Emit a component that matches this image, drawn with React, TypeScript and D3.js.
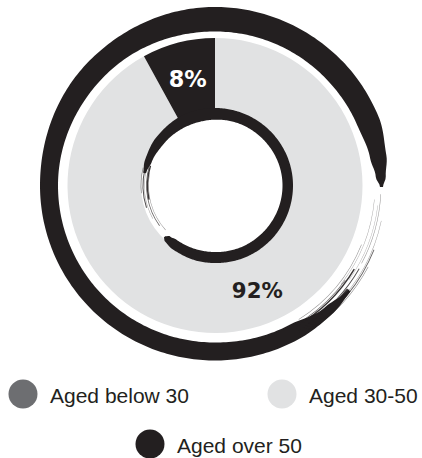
import React from "react";
import * as d3 from "d3";

const categories = ["Aged below 30", "Aged 30-50", "Aged over 50"];
const values = [0, 92, 8];
const colors = ["#6d6e71", "#e1e2e3", "#231f20"];
const labelColors = ["#ffffff", "#231f20", "#ffffff"];
const labelTexts = ["0%", "92%", "8%"];

// brush-ring profiles: [angleDeg, innerR, outerR]
const outerProfile: [number, number, number][] = [
  [-232, 169, 172],
  [-222, 164, 174],
  [-208, 158, 175],
  [-180, 157, 175],
  [-135, 157, 175],
  [-90, 157, 175],
  [-45, 155.5, 177],
  [0, 154, 178.5],
  [45, 154, 178],
  [67, 154.5, 177.5],
  [80, 157.5, 174],
  [87, 161, 171],
  [90.5, 165, 168],
];
const innerProfile: [number, number, number][] = [
  [-80, 70, 73],
  [-70, 67.5, 74.5],
  [-50, 66, 76],
  [-20, 65.5, 77.5],
  [30, 66.5, 77.5],
  [90, 67.5, 78],
  [150, 67, 78],
  [190, 66.5, 77.5],
  [215, 66.5, 76.5],
  [222, 68, 75],
  [224.5, 71, 73],
];
// dry-brush strands: [radius, startDeg, endDeg, width, opacity]
const outerStrands: [number, number, number, number, number][] = [
  [158, 112, 148, 0.5, 0.5],
  [160, 95, 128, 0.4, 0.45],
  [161, 126, 146, 0.8, 0.7],
  [162.5, 121, 150, 1.4, 0.9],
  [164, 97, 125, 0.4, 0.4],
  [166, 93, 118, 0.5, 0.5],
  [166.5, 120, 146, 0.9, 0.8],
  [168.5, 128, 150, 2.0, 0.9],
  [170, 102, 135, 0.4, 0.45],
  [171.5, 112, 147, 0.8, 0.7],
  [173.5, 118, 146, 0.5, 0.6],
];
const innerStrands: [number, number, number, number, number][] = [
  [66.5, 228, 281, 0.5, 0.5],
  [68.5, 234, 285, 0.8, 0.7],
  [70.5, 242, 283, 0.5, 0.45],
  [72, 252, 284, 1.0, 0.8],
  [67.5, 258, 287, 1.4, 0.9],
  [74, 264, 284, 0.6, 0.6],
];

const W = 422;
const H = 458;
const cx = 215;
const cy = 185.5;
const ink = "#231f20";

const rad = (d: number) => (d * Math.PI) / 180;

// sample a profile densely in polar space so the ring stays circular
function densify(p: [number, number, number][]) {
  const out: [number, number, number][] = [];
  for (let k = 0; k < p.length - 1; k++) {
    const [a0, i0, o0] = p[k];
    const [a1, i1, o1] = p[k + 1];
    const n = Math.max(2, Math.ceil(Math.abs(a1 - a0)));
    const ei = d3.interpolateNumber(i0, i1);
    const eo = d3.interpolateNumber(o0, o1);
    for (let j = 0; j < n; j++) {
      const t = j / n;
      const s = (1 - Math.cos(Math.PI * t)) / 2;
      out.push([a0 + (a1 - a0) * t, ei(s), eo(s)]);
    }
  }
  out.push(p[p.length - 1]);
  return out;
}

export default function App() {
  const pie = d3.pie<number>().sort(null).value((d) => d)(values);
  const arc = d3.arc<d3.PieArcDatum<number>>().innerRadius(74).outerRadius(147.5);
  const ring = (p: [number, number, number][]) =>
    d3
      .areaRadial<[number, number, number]>()
      .angle((d) => rad(d[0]))
      .innerRadius((d) => d[1])
      .outerRadius((d) => d[2])
      .curve(d3.curveLinear)(densify(p)) || "";
  const strand = d3
    .arc<[number, number, number, number, number]>()
    .innerRadius((d) => d[0] - d[3] / 2)
    .outerRadius((d) => d[0] + d[3] / 2)
    .startAngle((d) => rad(d[1]))
    .endAngle((d) => rad(d[2]));

  const labelPos = (p: d3.PieArcDatum<number>, i: number) => {
    const frac = i === 1 ? 0.477 : 0.5;
    const r = i === 1 ? 113 : 110;
    const a = p.startAngle + (p.endAngle - p.startAngle) * frac;
    return [Math.sin(a) * r, -Math.cos(a) * r];
  };

  const legend = [
    { i: 0, x: 23, y: 394 },
    { i: 1, x: 282, y: 394 },
    { i: 2, x: 150, y: 444 },
  ];

  return (
    <svg width={W} height={H} style={{ position: "absolute", left: 0, top: 0 }}>
      <rect width={W} height={H} fill="#ffffff" />
      <g transform={`translate(${cx},${cy})`}>
        {pie.map((p, i) =>
          p.value > 0 ? <path key={i} d={arc(p) || ""} fill={colors[i]} /> : null
        )}
        <path d={ring(innerProfile)} fill={ink} />
        {innerStrands.map((s, i) => (
          <path key={"is" + i} d={strand(s) || ""} fill={ink} opacity={s[4]} />
        ))}
        <path d={ring(outerProfile)} fill={ink} />
        {outerStrands.map((s, i) => (
          <path key={"os" + i} d={strand(s) || ""} fill={ink} opacity={s[4]} />
        ))}
        {pie.map((p, i) => {
          if (p.value <= 0) return null;
          const [x, y] = labelPos(p, i);
          return (
            <text
              key={"l" + i}
              x={x}
              y={y}
              dy="0.36em"
              textAnchor="middle"
              fontFamily="DejaVu Sans"
              fontWeight="bold"
              fontSize={i === 2 ? 22.4 : 21.3}
              fill={labelColors[i]}
            >
              {labelTexts[i]}
            </text>
          );
        })}
      </g>
      {legend.map((l) => (
        <g key={"lg" + l.i}>
          <circle cx={l.x} cy={l.y} r={14.5} fill={colors[l.i]} />
          <text
            x={l.x + 27}
            y={l.y + 8.5}
            fontFamily="Liberation Sans, Arial, sans-serif"
            fontSize={21}
            fill={ink}
          >
            {categories[l.i]}
          </text>
        </g>
      ))}
    </svg>
  );
}
